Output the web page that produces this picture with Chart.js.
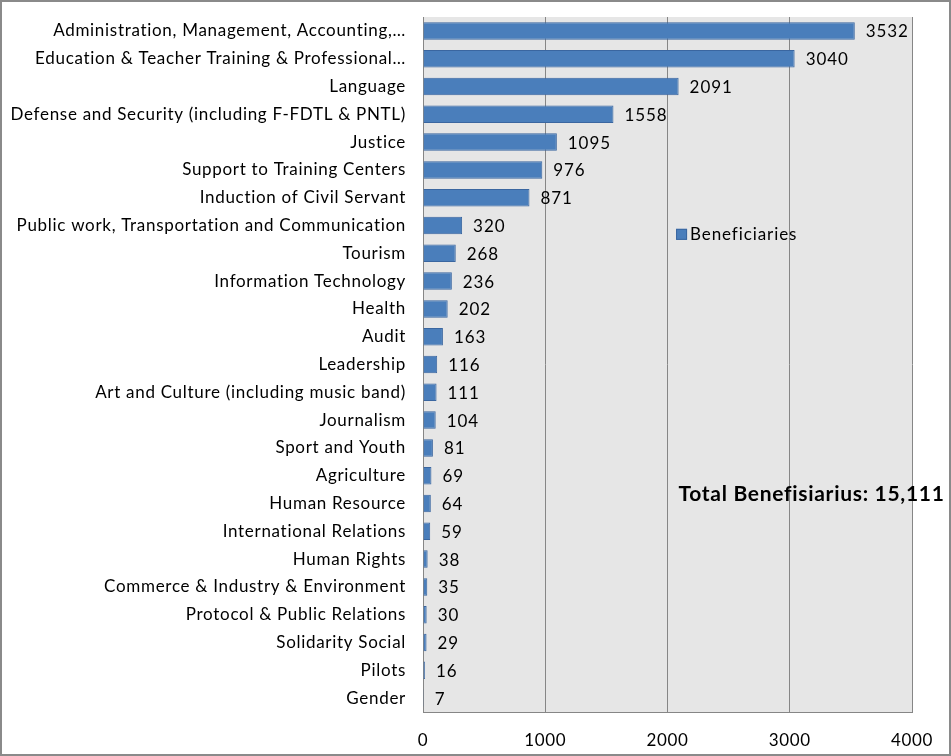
<!DOCTYPE html>
<html><head><meta charset="utf-8">
<script src="https://cdn.jsdelivr.net/npm/chart.js@4/dist/chart.umd.min.js"></script>
<style>
html,body{margin:0;padding:0;background:#fff;}
#wrap{position:relative;width:951px;height:756px;box-sizing:border-box;border:2px solid #8a8a8a;}
canvas{display:block;}
</style></head>
<body>
<div id="wrap"><canvas id="c" width="947" height="752"></canvas></div>
<script>
const categories = [
  "Administration, Management, Accounting,…",
  "Education & Teacher Training & Professional…",
  "Language",
  "Defense and Security (including F-FDTL & PNTL)",
  "Justice",
  "Support to Training Centers",
  "Induction of Civil Servant",
  "Public work, Transportation and Communication",
  "Tourism",
  "Information Technology",
  "Health",
  "Audit",
  "Leadership",
  "Art and Culture (including music band)",
  "Journalism",
  "Sport and Youth",
  "Agriculture",
  "Human Resource",
  "International Relations",
  "Human Rights",
  "Commerce & Industry & Environment",
  "Protocol & Public Relations",
  "Solidarity Social",
  "Pilots",
  "Gender"
];
const beneficiaries = [3532,3040,2091,1558,1095,976,871,320,268,236,202,163,116,111,104,81,69,64,59,38,35,30,29,16,7];
const xTicks = [0,1000,2000,3000,4000];
const seriesName = "Beneficiaries";
const totalText = "Total Benefisiarius: 15,111";

const FONT = "Lato, 'Open Sans', sans-serif";
const SPACING = '0.7px';

const plotBg = {
  id:'plotBg',
  beforeDraw(chart){
    const {ctx, chartArea:a} = chart;
    ctx.letterSpacing = SPACING;
    ctx.save();
    ctx.fillStyle = '#e6e6e6';
    ctx.fillRect(a.left, a.top, a.right-a.left, a.bottom-a.top);
    ctx.restore();
  }
};
const labelsPlugin = {
  id:'labelsPlugin',
  afterDatasetsDraw(chart){
    const ctx = chart.ctx;
    const meta = chart.getDatasetMeta(0);
    ctx.save();
    ctx.letterSpacing = '0.9px';
    ctx.font = "17px " + FONT;
    ctx.fillStyle = '#000';
    ctx.textAlign = 'left';
    ctx.textBaseline = 'middle';
    meta.data.forEach((bar,i)=>{
      ctx.fillText(String(beneficiaries[i]), bar.x + 11, bar.y + 1);
    });
    const xs = chart.scales.x;
    const ys = chart.scales.y;
    const lx = xs.getPixelForValue(2070), ly = ys.getPixelForValue(7.3);
    ctx.fillStyle = '#4a7ebb';
    ctx.strokeStyle = '#3a66a0';
    ctx.fillRect(lx, ly-5, 11, 11);
    ctx.strokeRect(lx+0.5, ly-4.5, 10, 10);
    ctx.fillStyle = '#000';
    ctx.font = "17px " + FONT;
    ctx.fillText(seriesName, lx + 14, ly + 1);
    ctx.letterSpacing = '0.7px';
    ctx.font = "bold 21px " + FONT;
    ctx.fillText(totalText, xs.getPixelForValue(2090), ys.getPixelForValue(16.65));
    ctx.restore();
  }
};

new Chart(document.getElementById('c'), {
  type:'bar',
  data:{labels:categories, datasets:[{label:seriesName, data:beneficiaries,
    backgroundColor:'#4a7ebb', borderColor:'#3a66a0', borderWidth:1,
    categoryPercentage:1, barPercentage:0.63}]},
  options:{
    indexAxis:'y', responsive:false, animation:false,
    layout:{padding:{top:15, right:37, left:0, bottom:0}},
    plugins:{legend:{display:false}, tooltip:{enabled:false}},
    scales:{
      x:{min:0,max:4000,
        afterBuildTicks(s){ s.ticks = xTicks.map(v=>({value:v})); },
        afterFit(s){ s.height = 42; s.paddingLeft = 0; s.paddingRight = 0; },
        grid:{color:'#868686', lineWidth:1, drawTicks:false},
        border:{color:'#868686'},
        ticks:{padding:18, color:'#000', font:{family:FONT, size:17},
          callback:(v)=>String(v)}
      },
      y:{
        afterFit(s){ s.width = 421; s.paddingTop = 0; s.paddingBottom = 0; },
        grid:{display:false, drawTicks:false},
        border:{color:'#868686'},
        ticks:{padding:17, color:'#000', autoSkip:false, font:{family:FONT, size:17}}
      }
    }
  },
  plugins:[plotBg, labelsPlugin]
});
</script>
</body></html>
